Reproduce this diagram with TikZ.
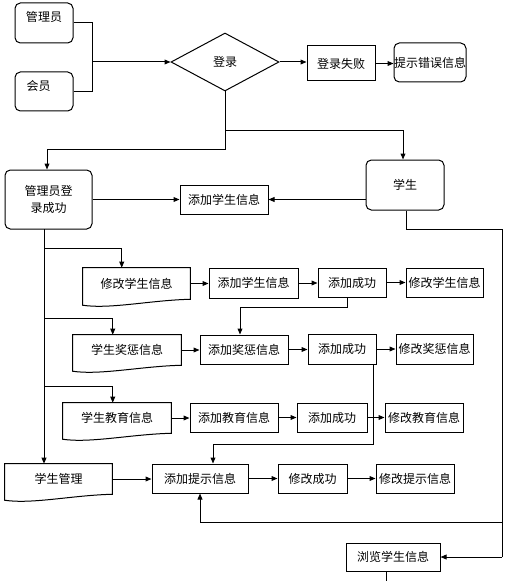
\documentclass[tikz,border=0pt]{standalone}
\usepackage{fontspec}
\setmainfont{Noto Sans CJK SC}
\usetikzlibrary{arrows.meta,calc,shapes.geometric}
\begin{document}
\begin{tikzpicture}[x=0.75pt,y=-0.75pt,
  every node/.style={font=\fontsize{9pt}{12.75pt}\selectfont, inner sep=0pt},
  box/.style={draw, line width=0.75pt, rectangle},
  rbox/.style={box, rounded corners=4pt},
  link/.style={line width=0.75pt},
  arr/.style={link, -{Triangle[length=4.5pt,width=3.6pt]}},
  sz/.style 2 args={minimum width=#1, minimum height=#2}
]
\fill[white] (0,0) rectangle (513,581);
\useasboundingbox (0,0) rectangle (513,581);

% top nodes
\node[rbox,sz={43.5pt}{30pt},label={[yshift=4.5pt]center:管理员}] (admin) at (44,23) {};
\node[rbox,sz={43.5pt}{29.25pt},label={[xshift=-4.1pt,yshift=4.1pt]center:会员}] (member) at (44,91.5) {};
\node[diamond,draw,line width=0.75pt,sz={81pt}{43.5pt}] (login) at (225,62) {登录};
\node[box,sz={51pt}{26.25pt}] (fail) at (341,63.5) {登录失败};
\node[rbox,sz={51pt}{29.25pt}] (errmsg) at (430,62.5) {提示错误信息};
\node[rbox,sz={65.25pt}{44.25pt},align=center] (adminok) at (48.5,199.5) {管理员登\\录成功};
\node[box,sz={66pt}{21.75pt}] (addstu1) at (224,199.5) {添加学生信息};
\node[rbox,sz={58.5pt}{37.5pt}] (student) at (405,185) {学生};

% document shapes
\node[sz={80.25pt}{23.25pt}] (modstu) at (136.5,283.5) {修改学生信息};
\node[sz={81pt}{22.5pt}] (reward) at (127,350) {学生奖惩信息};
\node[sz={81pt}{22.5pt}] (edu) at (117,418) {学生教育信息};
\node[sz={80.25pt}{22.5pt}] (mgmt) at (58.5,479) {学生管理};
\foreach \n in {modstu,reward,edu,mgmt}{
  \draw[link] (\n.north west) -- (\n.north east) -- (\n.south east)
    .. controls ($(\n.south east)+(-40,1)$) and ($(\n.south west)+(28,10)$) .. ($(\n.south west)+(0,6)$) -- cycle;
}

% row 1
\node[box,sz={66.75pt}{22.5pt}] (addstu2) at (253.5,283) {添加学生信息};
\node[box,sz={51pt}{21.75pt}] (ok1) at (352,282.5) {添加成功};
\node[box,sz={57.75pt}{21.75pt}] (modstu2) at (444.5,282.5) {修改学生信息};
% row 2
\node[box,sz={66pt}{21.75pt}] (addrew) at (244,349.5) {添加奖惩信息};
\node[box,sz={51pt}{22.5pt}] (ok2) at (342,349) {添加成功};
\node[box,sz={57.75pt}{22.5pt}] (modrew) at (434.5,349) {修改奖惩信息};
% row 3
\node[box,sz={66pt}{21.75pt}] (addedu) at (234,417.5) {添加教育信息};
\node[box,sz={52.5pt}{21.75pt}] (ok3) at (332,417.5) {添加成功};
\node[box,sz={58.5pt}{21.75pt}] (modedu) at (424,417.5) {修改教育信息};
% row 4
\node[box,sz={72pt}{21.75pt}] (addtip) at (200,478.5) {添加提示信息};
\node[box,sz={51.75pt}{21.75pt}] (modok) at (312.5,478.5) {修改成功};
\node[box,sz={58.5pt}{21.75pt}] (modtip) at (415,478.5) {修改提示信息};
\node[box,sz={70.5pt}{21pt}] (browse) at (393,557) {浏览学生信息};

% connectors top
\coordinate (j1) at (92,62);
\draw[link] (admin.east) -| (j1);
\draw[link] (member.east) -| (j1);
\draw[arr] (j1) -- (login.west);
\draw[arr] (login.east) -- (login.east -| fail.west);
\draw[arr] (fail.east) -- (fail.east -| errmsg.west);
\coordinate (j2) at (225,131);
\coordinate (j3) at (225,150);
\draw[link] (login.south) -- (j3);
\draw[arr] (j3) -| ($(adminok.north)+(-1.5,0)$);
\draw[arr] (j2) -| ($(student.north)+(-2,0)$);
\draw[arr] (adminok.east) -- (adminok.east -| addstu1.west);
\draw[arr] (addstu1.east -| student.west) -- (addstu1.east);

% student outputs
\coordinate (s1) at (406,229);
\coordinate (s2) at (502,229);
\coordinate (s3) at (502,557);
\coordinate (s4) at (502,522);
\coordinate (s5) at (200,522);
\draw[link] (student.south -| s1) -- (s1) -- (s2) -- (s3);
\draw[arr] (s3) -- (browse.east);
\draw[link] (s4) -- (s5);
\draw[arr] (s5) -- (addtip.south);
\coordinate (bend) at (386,581);
\draw[link] (browse.south -| bend) -- (bend);

% left trunk
\coordinate (t0) at (44,229);
\draw[arr] (t0) -- (t0 |- mgmt.north);
\coordinate (b1) at (44,248);
\coordinate (b2) at (44,318);
\coordinate (b3) at (44,386);
\draw[arr] (b1) -| ($(modstu.north west)+(39,0)$);
\draw[arr] (b2) -| ($(reward.north west)+(40,0)$);
\draw[arr] (b3) -| ($(edu.north west)+(50,0)$);

% row 1 connectors
\draw[arr] (modstu.east) -- (modstu.east -| addstu2.west);
\draw[arr] (addstu2.east) -- (addstu2.east -| ok1.west);
\draw[arr] (ok1.east) -- (ok1.east -| modstu2.west);
\coordinate (c1) at (347,307);
\coordinate (c2) at (240,307);
\draw[link] (ok1.south -| c1) -- (c1) -- (c2);
\draw[arr] (c2) -- (c2 |- addrew.north);
% row 2 connectors
\draw[arr] (reward.east) -- (reward.east -| addrew.west);
\draw[arr] (addrew.east) -- (addrew.east -| ok2.west);
\draw[arr] (ok2.east) -- (ok2.east -| modrew.west);
\coordinate (d1) at (373,444);
\coordinate (d2) at (213,444);
\draw[link] (ok2.south -| d1) -- (d1) -- (d2);
\draw[arr] (d2) -- (d2 |- addtip.north);
% row 3 connectors
\draw[arr] (edu.east) -- (edu.east -| addedu.west);
\draw[arr] (addedu.east) -- (addedu.east -| ok3.west);
\draw[arr] (ok3.east) -- (ok3.east -| modedu.west);
% row 4 connectors
\draw[arr] (mgmt.east) -- (mgmt.east -| addtip.west);
\draw[arr] (addtip.east) -- (addtip.east -| modok.west);
\draw[arr] (modok.east) -- (modok.east -| modtip.west);
\end{tikzpicture}
\end{document}
